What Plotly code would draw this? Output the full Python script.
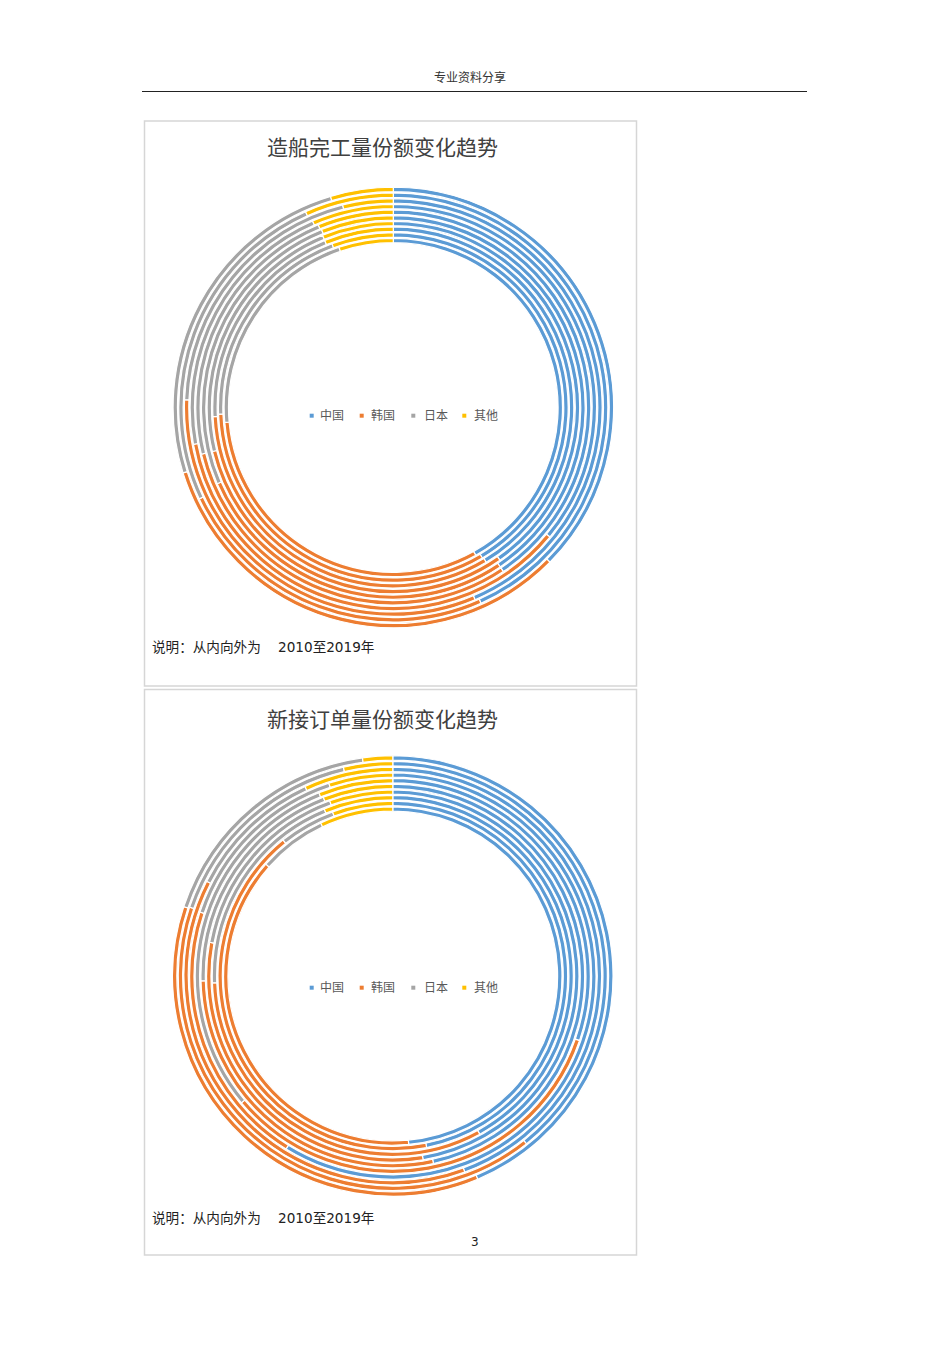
import plotly.graph_objects as go

# ---------------- data ----------------
years = [str(y) for y in range(2010, 2020)]          # inner -> outer ring
categories = ["中国", "韩国", "日本", "其他"]
colors = ["#5B9BD5", "#ED7D31", "#A5A5A5", "#FFC000"]

# 造船完工量份额 (%), 2010..2019
completion_china = [41.9, 41.5, 41.4, 40.3, 40.6, 40.6, 36.0, 43.6, 43.3, 37.4]
completion_korea = [31.7, 32.9, 32.8, 30.9, 27.9, 30.6, 36.1, 32.0, 24.7, 32.8]
completion_japan = [21.2, 19.9, 19.6, 22.6, 25.4, 22.6, 21.4, 20.5, 25.3, 25.2]
completion_other = [5.2, 5.7, 6.2, 6.2, 6.1, 6.2, 6.5, 3.9, 6.7, 4.6]

# 新接订单量份额 (%), 2010..2019
orders_china = [48.5, 46.9, 42.0, 47.4, 46.6, 30.3, 58.8, 44.4, 39.3, 43.7]
orders_korea = [38.0, 42.3, 32.4, 30.5, 28.0, 33.6, 21.3, 38.1, 40.9, 36.4]
orders_japan = [6.5, 5.2, 19.4, 16.6, 19.5, 30.0, 14.8, 10.6, 16.1, 17.7]
orders_other = [7.0, 5.6, 6.2, 5.5, 5.9, 6.1, 5.1, 6.9, 3.7, 2.2]

titles = ["造船完工量份额变化趋势", "新接订单量份额变化趋势"]
note_text = "说明：从内向外为\u00a0\u00a0\u00a0\u00a02010至2019年"
header_text = "专业资料分享"
page_number = "3"

# ---------------- layout helpers ----------------
OFF = 8                     # page body margin of the browser
W, H = 950 - 2 * OFF, 1345 - 2 * OFF
CJK = "Noto Sans CJK SC"
MIX = "DejaVu Sans, Noto Sans CJK SC"


def px(x):
    return (x - OFF) / W


def py(y):
    return 1 - (y - OFF) / H


fig = go.Figure()

charts = [
    dict(series=[completion_china, completion_korea, completion_japan, completion_other],
         cx=393.3, cy=407.5, title_y=146, note_y=647, legend_y=414,
         box=(144.5, 121, 636.5, 686)),
    dict(series=[orders_china, orders_korea, orders_japan, orders_other],
         cx=392.8, cy=976.0, title_y=718, note_y=1218, legend_y=986,
         box=(144.5, 689.5, 636.5, 1255)),
]

R_INNER = 167.0
R_STEP = 5.67
HALF = 2.2

shapes = []
annotations = []

for ci, ch in enumerate(charts):
    cx, cy = ch["cx"], ch["cy"]
    for k, yr in enumerate(years):
        vals = [s[k] for s in ch["series"]]
        rc = R_INNER + R_STEP * k
        ro, ri = rc + HALF, rc - HALF
        fig.add_trace(go.Pie(
            labels=categories,
            values=vals,
            name=yr,
            sort=False,
            direction="clockwise",
            rotation=0,
            hole=ri / ro,
            marker=dict(colors=colors, line=dict(color="white", width=1.2)),
            textinfo="none",
            hovertemplate=yr + " %{label}: %{value}%<extra></extra>",
            showlegend=False,
            domain=dict(x=[px(cx - ro), px(cx + ro)], y=[py(cy + ro), py(cy - ro)]),
        ))

    # box
    x0, y0, x1, y1 = ch["box"]
    shapes.append(dict(type="rect", xref="paper", yref="paper",
                       x0=px(x0), x1=px(x1), y0=py(y1), y1=py(y0),
                       line=dict(color="#D6D6D6", width=1.5), fillcolor="rgba(0,0,0,0)"))
    # title
    annotations.append(dict(text=titles[ci], x=px(382.5), y=py(ch["title_y"]),
                            xref="paper", yref="paper", showarrow=False,
                            xanchor="center", yanchor="middle",
                            font=dict(family=CJK, size=21, color="#404040")))
    # note
    annotations.append(dict(text=note_text, x=px(149.5), y=py(ch["note_y"]),
                            xref="paper", yref="paper", showarrow=False,
                            xanchor="left", yanchor="middle",
                            font=dict(family=MIX, size=13.6, color="#222222")))
    # legend (marker + label)
    ly = ch["legend_y"]
    marker_x = [311.7, 361.7, 413.3, 464.3]
    text_x = [317.5, 369.0, 421.5, 472.3]
    for j, cat in enumerate(categories):
        shapes.append(dict(type="rect", xref="paper", yref="paper",
                           x0=px(marker_x[j] - 2), x1=px(marker_x[j] + 2),
                           y0=py(ly + 3.7), y1=py(ly - 0.3),
                           line=dict(width=0), fillcolor=colors[j]))
        annotations.append(dict(text=cat, x=px(text_x[j]), y=py(ly),
                                xref="paper", yref="paper", showarrow=False,
                                xanchor="left", yanchor="middle",
                                font=dict(family=CJK, size=12, color="#595959")))

# page header / footer
annotations.append(dict(text=header_text, x=px(470), y=py(76), xref="paper", yref="paper",
                        showarrow=False, xanchor="center", yanchor="middle",
                        font=dict(family=CJK, size=12, color="#333333")))
shapes.append(dict(type="line", xref="paper", yref="paper",
                   x0=px(142), x1=px(807), y0=py(91.5), y1=py(91.5),
                   line=dict(color="#222222", width=1)))
annotations.append(dict(text=page_number, x=px(475), y=py(1242), xref="paper", yref="paper",
                        showarrow=False, xanchor="center", yanchor="middle",
                        font=dict(family=MIX, size=12, color="#222222")))

fig.update_layout(
    width=W, height=H, autosize=False,
    margin=dict(l=0, r=0, t=0, b=0, pad=0),
    paper_bgcolor="white", plot_bgcolor="white",
    showlegend=False,
    shapes=shapes,
    annotations=annotations,
)

fig.write_html("out.html")
